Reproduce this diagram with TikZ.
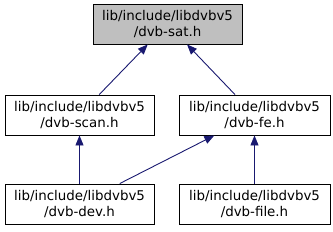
\documentclass[tikz,border=0pt]{standalone}
\usepackage{fontspec}
\setmainfont{DejaVu Sans}
\usetikzlibrary{arrows.meta}
\definecolor{edgeblue}{HTML}{191970}
\definecolor{hlgray}{HTML}{BFBFBF}
\tikzset{
  filebox/.style={draw=black, line width=0.9pt, fill=white, minimum height=40pt, inner sep=0pt,
    align=center, font=\fontsize{13.4}{15.5}\selectfont},
  incl/.style={draw=edgeblue, line width=0.9pt, -{Triangle[length=10pt,width=8pt]}, fill=none}
}
\begin{document}
\begin{tikzpicture}[x=1pt,y=-1pt]
\useasboundingbox (0,0) rectangle (333,231);
\node[filebox, fill=hlgray, minimum width=149pt] (sat) at (167.5,24) {lib/include/libdvbv5\\/dvb-sat.h};
\node[filebox, minimum width=149pt] (scan) at (79.5,115) {lib/include/libdvbv5\\/dvb-scan.h};
\node[filebox, minimum width=151pt] (fe) at (254.5,115) {lib/include/libdvbv5\\/dvb-fe.h};
\node[filebox, minimum width=149pt] (dev) at (79.5,204) {lib/include/libdvbv5\\/dvb-dev.h};
\node[filebox, minimum width=151pt] (file) at (254.5,204) {lib/include/libdvbv5\\/dvb-file.h};
\draw[incl] (scan) -- (sat);
\draw[incl] (fe) -- (sat);
\draw[incl] (dev) -- (scan);
\draw[incl] (dev) -- (fe);
\draw[incl] (file) -- (fe);
\end{tikzpicture}
\end{document}
